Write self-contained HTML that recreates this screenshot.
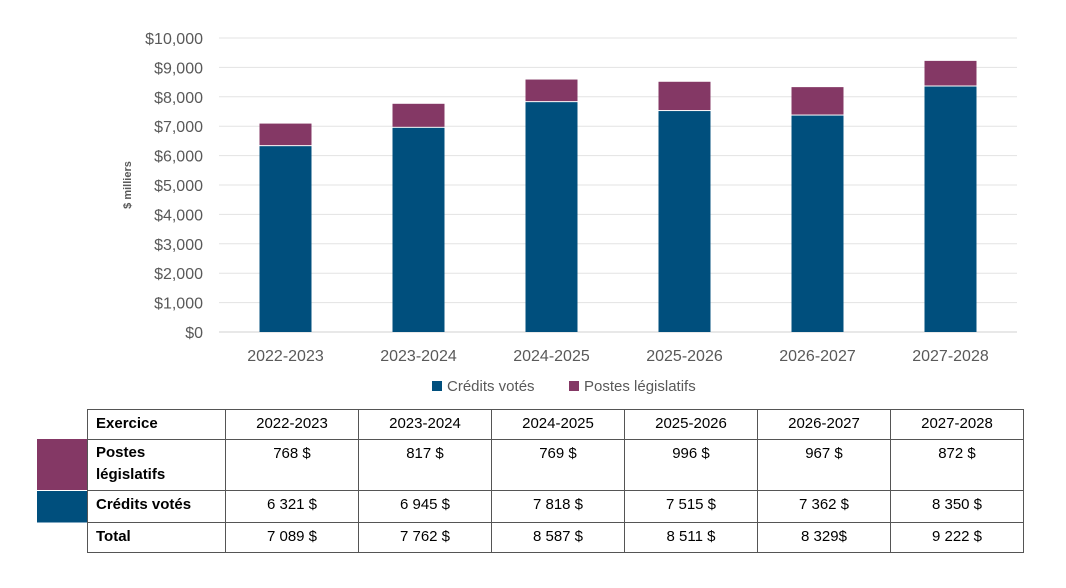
<!DOCTYPE html>
<html><head><meta charset="utf-8"><style>
body{margin:0;width:1066px;height:588px;background:#fff;font-family:"Liberation Sans",sans-serif;position:relative;overflow:hidden}
svg{position:absolute;left:0;top:0}
table{position:absolute;left:87px;top:409px;border-collapse:collapse;font-size:15px;color:#000}
td{border:1px solid #555;text-align:center;vertical-align:top;padding:5px 4px 0;box-sizing:border-box;width:133px}
td.h{text-align:left;font-weight:bold;width:138px;padding-left:8px}
.sw{position:absolute;left:37px;width:50px}
</style></head><body>
<svg width="1066" height="400" id="chart"></svg>
<div class="sw" style="top:439px;height:51px;background:#843865"></div>
<div class="sw" style="top:491px;height:31px;background:#004F7D;border-bottom:1px solid #7fa6c0"></div>
<table>
<tr style="height:30px"><td class="h">Exercice</td><td>2022-2023</td><td>2023-2024</td><td>2024-2025</td><td>2025-2026</td><td>2026-2027</td><td>2027-2028</td></tr>
<tr style="height:51px"><td class="h" style="line-height:22px;padding-top:2px">Postes<br>législatifs</td><td>768 $</td><td>817 $</td><td>769 $</td><td>996 $</td><td>967 $</td><td>872 $</td></tr>
<tr style="height:32px"><td class="h">Crédits votés</td><td>6 321 $</td><td>6 945 $</td><td>7 818 $</td><td>7 515 $</td><td>7 362 $</td><td>8 350 $</td></tr>
<tr style="height:30px"><td class="h">Total</td><td>7 089 $</td><td>7 762 $</td><td>8 587 $</td><td>8 511 $</td><td>8 329$</td><td>9 222 $</td></tr>
</table>
<script>
const categories=["2022-2023","2023-2024","2024-2025","2025-2026","2026-2027","2027-2028"];
const credits=[6321,6945,7818,7515,7362,8350];
const postes=[768,817,769,996,967,872];
const ticks=[0,1000,2000,3000,4000,5000,6000,7000,8000,9000,10000];
const NS="http://www.w3.org/2000/svg";
const svg=document.getElementById('chart');
const x0=219,x1=1017,y0=332,y1=38,max=10000;
const band=(x1-x0)/categories.length,bw=52;
const y=v=>y0-(v/max)*(y0-y1);
const xc=i=>x0+band*(i+0.5);
function mk(t,a,txt){const e=document.createElementNS(NS,t);for(const k in a)e.setAttribute(k,a[k]);if(txt!==undefined)e.textContent=txt;svg.appendChild(e);return e;}
ticks.forEach(t=>{
 const g=mk('line',{x1:x0,x2:x1,y1:y(t),y2:y(t),stroke:t===0?'#d0d0d0':'#e3e3e3','stroke-width':1});
 
 
 const l=mk('text',{x:203,y:y(t)+6,'text-anchor':'end','font-size':16,fill:'#595959'},'$'+t.toLocaleString('en-US'));
 
 
});
const yt=mk('text',{x:0,y:0,'font-size':11,'font-weight':'bold',fill:'#595959','text-anchor':'middle',transform:'translate(131,185) rotate(-90)'},'$ milliers');


categories.forEach((c,i)=>{
 const b=mk('rect',{x:xc(i)-bw/2,y:y(credits[i]),width:bw,height:y0-y(credits[i]),fill:'#004F7D'});
 
 
 const p=mk('rect',{x:xc(i)-bw/2,y:y(credits[i]+postes[i]),width:bw,height:y(credits[i])-y(credits[i]+postes[i])-1,fill:'#843865'});
 
 
 const l=mk('text',{x:xc(i),y:361,'text-anchor':'middle','font-size':16,fill:'#595959'},c);
 
 
});
const r1=mk('rect',{x:432,y:381,width:10,height:10,fill:'#004F7D'});


const t1=mk('text',{x:447,y:391,'font-size':15,fill:'#595959'},'Crédits votés');


const r2=mk('rect',{x:569,y:381,width:10,height:10,fill:'#843865'});


const t2=mk('text',{x:584,y:391,'font-size':15,fill:'#595959'},'Postes législatifs');


</script>
</body></html>
